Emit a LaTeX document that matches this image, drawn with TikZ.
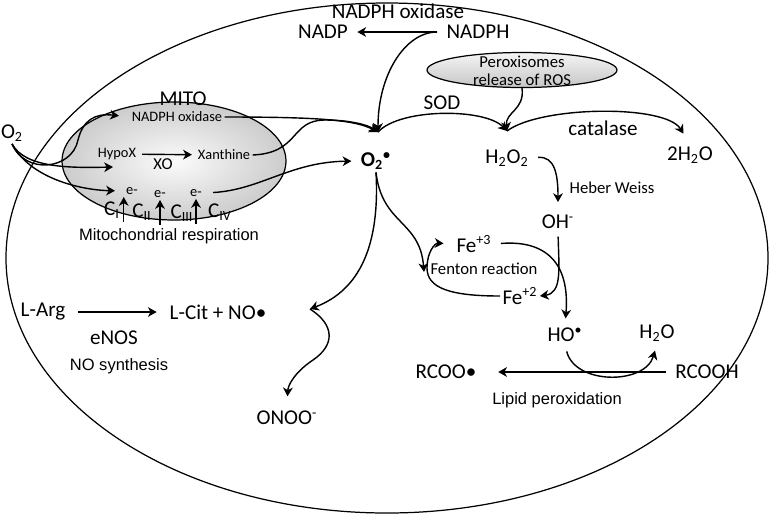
\documentclass[tikz,border=0pt]{standalone}
\usepackage{fontspec}
\setmainfont{Carlito}
\newfontfamily\arialfont{Liberation Sans}
\usetikzlibrary{arrows.meta,shapes.geometric}

\begin{document}
\begin{tikzpicture}[x=0.02cm,y=-0.02cm]
\useasboundingbox (0,0) rectangle (771,515);
\begin{scope}[line width=0.8pt,>={Stealth[length=5pt,width=5.5pt,inset=1.5pt]},
  lbl/.style={inner sep=1pt,font=\fontsize{12}{14}\selectfont},
  lblsm/.style={inner sep=1pt,font=\fontsize{9.5}{10.2}\selectfont},
  lbltiny/.style={inner sep=1pt,font=\fontsize{8.2}{10}\selectfont},
  lblar/.style={inner sep=1pt,font=\arialfont\fontsize{9.4}{11}\selectfont}]
\draw[line width=0.7pt] (387,258) ellipse [x radius=381,y radius=255];
\node[draw,ellipse,line width=0.7pt,inner color=gray!3,outer color=gray!40,minimum width=4.48cm,minimum height=2.36cm] (mito) at (174,161) {};
\node[draw,ellipse,line width=0.7pt,top color=gray!8,bottom color=gray!45,minimum width=3.8cm,minimum height=0.7cm] (perox) at (522,70) {};
\node[lbl] (noxtop) at (398,11) {NADPH oxidase};
\node[lbl] (nadp) at (323,32) {NADP};
\node[lbl] (nadph) at (478,32) {NADPH};
\node[lblsm,align=center] (peroxt) at (522,71) {Peroxisomes\\release of ROS};
\node[lbl] (mitot) at (183,99) {MITO};
\node[lbltiny] (mnox) at (177,117) {NADPH oxidase};
\node[lbltiny] (hypox) at (117,154) {HypoX};
\node[lbltiny] (xan) at (224,155) {Xanthine};
\node[lblsm] (xo) at (163,164) {XO};
\node[lbltiny] (e1) at (132,191) {e-};
\node[lbltiny] (e2) at (160,194) {e-};
\node[lbltiny] (e3) at (196,193) {e-};
\node[lbl] (c1) at (112,210) {C\textsubscript{I}};
\node[lbl] (c2) at (142,212) {C\textsubscript{II}};
\node[lbl] (c3) at (182,213) {C\textsubscript{III}};
\node[lbl] (c4) at (220,212) {C\textsubscript{IV}};
\node[lblar] (resp) at (169,236) {Mitochondrial respiration};
\node[lbl] (o2l) at (12,133) {O\textsubscript{2}};
\node[lbl,font=\fontsize{12}{14}\selectfont\bfseries] (o2r) at (376,161) {O\textsubscript{2}\textsuperscript{\textbullet}};
\node[lbl] (sod) at (442,103) {SOD};
\node[lbl] (cat) at (603,128) {catalase};
\node[lbl] (h2o2) at (507,158) {H\textsubscript{2}O\textsubscript{2}};
\node[lbl] (wat) at (690,155) {2H\textsubscript{2}O};
\node[lblsm] (hw) at (612,188) {Heber Weiss};
\node[lbl] (oh) at (558,222) {OH\textsuperscript{-}};
\node[lbl] (fe3) at (474,244) {Fe\textsuperscript{+3}};
\node[lblsm] (fenton) at (484,269) {Fenton reaction};
\node[lbl] (fe2) at (520,296) {Fe\textsuperscript{+2}};
\node[lbl] (ho) at (565,335) {HO\textsuperscript{\textbullet}};
\node[lbl] (h2o) at (657,333) {H\textsubscript{2}O};
\node[lbl] (rcooh) at (707,372) {RCOOH};
\node[lbl] (rcoo) at (446,372) {RCOO\textbullet};
\node[lblar] (lipid) at (557,400) {Lipid peroxidation};
\node[lbl] (larg) at (43,312) {L-Arg};
\node[lbl] (lcit) at (218,312) {L-Cit + NO\textbullet};
\node[lbl] (enos) at (114,338) {eNOS};
\node[lblar] (nosyn) at (119,366) {NO synthesis};
\node[lbl] (onoo) at (287,418) {ONOO\textsuperscript{-}};
\coordinate (j1) at (378,132);
\coordinate (j2) at (507,131);
\coordinate (fen) at (424,272);
\coordinate (nj) at (310,309);
\coordinate (hx) at (113,167);
\draw[->,shorten <=4pt,shorten >=4pt] (nadph.west) -- (nadp.east);
\draw[->,shorten <=4pt] (nadph.west) .. controls (405,32) and (378,75) .. (j1);
\draw[->] (mnox.east) .. controls (320,117) and (355,120) .. (j1);
\draw[->] (xan.east) .. controls (300,153) and (290,120) .. (325,120) .. controls (350,120) and (368,125) .. (j1);
\draw[->,shorten <=5pt,shorten >=4pt] (e3.east) .. controls (260,190) and (290,162) .. (o2r.west);
\draw[->] (j1) .. controls (400,108) and (485,108) .. (j2);
\draw[->,shorten >=7pt] (j2) .. controls (540,106) and (665,104) .. (wat.north);
\draw[->] (perox.south) .. controls (525,110) and (505,112) .. (j2);
\draw[->,shorten <=4pt,shorten >=6pt] (h2o2.east) .. controls (555,156) and (558,175) .. (oh.north);
\draw[->,shorten <=3pt] (oh.south) .. controls (559,270) and (562,293) .. (fe2.east);
\draw[->,shorten <=4pt,shorten >=4pt] (fe3.east) .. controls (545,240) and (570,262) .. (ho.north);
\draw[->] (o2r.south) .. controls (382,225) and (420,220) .. (fen);
\draw[->,shorten >=6pt] (fe2.west) .. controls (450,296) and (427,288) .. (427,268) .. controls (427,252) and (435,243) .. (fe3.west);
\draw[->] (o2r.south) .. controls (380,245) and (360,290) .. (nj);
\draw[->,shorten >=7pt] (nj) .. controls (335,325) and (335,345) .. (313,360) .. controls (295,372) and (288,385) .. (onoo.north);
\draw[->,shorten <=6pt,shorten >=6pt] (larg) -- (lcit);
\draw[->,shorten <=4pt,shorten >=4pt] (ho.south) .. controls (575,385) and (645,385) .. (h2o.south);
\draw[->,shorten <=4pt,shorten >=11pt] (rcooh) -- (rcoo);
\draw[->,shorten >=6pt] (o2l.south) .. controls (25,175) and (72,170) .. (78,140) .. controls (83,120) and (95,113) .. (mnox.west);
\draw[->] (o2l.south) .. controls (25,168) and (70,168) .. (hx);
\draw[->,shorten >=5pt] (o2l.south) .. controls (30,178) and (80,190) .. (e1.west);
\draw[<-] (e1.south west) -- ++(0,25);
\draw[<-] (e2.south) -- ++(0,25);
\draw[<-] (e3.south) -- ++(0,25);
\draw[->,shorten <=2pt,shorten >=2pt] (hypox) -- (xan);
\end{scope}
\end{tikzpicture}
\end{document}
